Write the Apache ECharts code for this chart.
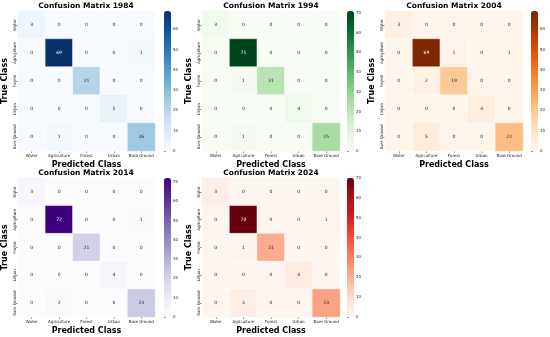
<!DOCTYPE html>
<html><head><meta charset="utf-8">
<script src="https://cdn.jsdelivr.net/npm/echarts@6/dist/echarts.min.js"></script>
<style>html,body{margin:0;padding:0;background:#fff}#c{width:550px;height:337px}</style>
</head><body><div id="c"></div>
<script>
const classes = ['Water','Agriculture','Forest','Urban','Bare Ground'];
const years = ['1984','1994','2004','2014','2024'];
const m1984 = [[3,0,0,0,0],[0,69,0,0,1],[0,0,21,0,0],[0,0,0,5,0],[0,1,0,0,26]];
const m1994 = [[3,0,0,0,0],[0,71,0,0,0],[0,1,21,0,0],[0,0,0,4,0],[0,1,0,0,25]];
const m2004 = [[3,0,0,0,0],[0,69,1,0,1],[0,2,19,0,0],[0,0,0,4,0],[0,5,0,0,22]];
const m2014 = [[3,0,0,0,0],[0,72,0,0,1],[0,0,21,0,0],[0,0,0,4,0],[0,2,0,0,23]];
const m2024 = [[3,0,0,0,0],[0,70,0,0,1],[0,1,21,0,0],[0,0,0,4,0],[0,3,0,0,23]];
const matrices = [m1984,m1994,m2004,m2014,m2024];
const colorbarTicks = [0,10,20,30,40,50,60,70];

const palettes = [
 ['#f7fbff','#deebf7','#c6dbef','#9ecae1','#6baed6','#4292c6','#2171b5','#08519c','#08306b'],
 ['#f7fcf5','#e5f5e0','#c7e9c0','#a1d99b','#74c476','#41ab5d','#238b45','#006d2c','#00441b'],
 ['#fff5eb','#fee6ce','#fdd0a2','#fdae6b','#fd8d3c','#f16913','#d94801','#a63603','#7f2704'],
 ['#fcfbfd','#efedf5','#dadaeb','#bcbddc','#9e9ac8','#807dba','#6a51a3','#54278f','#3f007d'],
 ['#fff5f0','#fee0d2','#fcbba1','#fc9272','#fb6a4a','#ef3b2c','#cb181d','#a50f15','#67000d']
];
// layout (px)
const panels = [
 {l:17, t:11, w:138, h:140, cb:164},
 {l:202,t:11, w:138, h:140, cb:347},
 {l:385,t:11, w:138, h:140, cb:531},
 {l:17, t:178,w:138, h:139, cb:164},
 {l:202,t:178,w:138, h:139, cb:347}
];
const FONT = 'DejaVu Sans';
const grid=[], xAxis=[], yAxis=[], series=[], visualMap=[], title=[];
panels.forEach((p,i)=>{
  const mat = matrices[i];
  let mx = 0; const data=[];
  mat.forEach((row,r)=>row.forEach((v,c)=>{ data.push([c,r,v]); if(v>mx) mx=v; }));
  grid.push({left:p.l, top:p.t, width:p.w, height:p.h, containLabel:false});
  xAxis.push({type:'category', gridIndex:2*i, data:classes, position:'bottom',
    name:'Predicted Class', nameLocation:'middle', nameGap:9.5,
    nameTextStyle:{fontFamily:FONT, fontWeight:'bold', fontSize:8, color:'#000'},
    axisLine:{show:false}, axisTick:{show:true, alignWithLabel:true, length:2, lineStyle:{color:'#333', width:0.5}},
    axisLabel:{fontFamily:FONT, fontSize:4, color:'#222', margin:3, interval:0}, splitLine:{show:false}});
  yAxis.push({type:'category', gridIndex:2*i, data:classes, inverse:true,
    name:'True Class', nameLocation:'middle', nameGap:9, nameRotate:90,
    nameTextStyle:{fontFamily:FONT, fontWeight:'bold', fontSize:8, color:'#000'},
    axisLine:{show:false}, axisTick:{show:true, alignWithLabel:true, length:2, lineStyle:{color:'#333', width:0.5}},
    axisLabel:{fontFamily:FONT, fontSize:4, color:'#222', margin:3, rotate:90, interval:0, verticalAlign:'middle', align:'center'}, splitLine:{show:false}});
  grid.push({left:p.cb, top:p.t, width:7, height:p.h});
  xAxis.push({type:'value', gridIndex:2*i+1, show:false, min:0, max:1});
  yAxis.push({type:'value', gridIndex:2*i+1, position:'right', min:0, max:mx, interval:10,
    axisLine:{show:false}, splitLine:{show:false},
    axisTick:{show:true, length:2, lineStyle:{color:'#333', width:0.5}},
    axisLabel:{fontFamily:FONT, fontSize:4, color:'#222', margin:2,
      showMaxLabel: colorbarTicks.indexOf(mx)>=0, formatter: v=> colorbarTicks.indexOf(v)>=0 ? String(v) : ''}});
  series.push({type:'heatmap', xAxisIndex:2*i, yAxisIndex:2*i,
    data: data.map(d=>({value:d, label:{color: d[2] > 0.6*mx ? '#fff' : '#262626'}})),
    itemStyle:{borderColor:'#fff', borderWidth:0.4},
    label:{show:true, fontFamily:FONT, fontSize:4.5, color:'#222', formatter: d=>String(d.value[2])},
    emphasis:{disabled:true}});
  visualMap.push({type:'continuous', seriesIndex:i, min:0, max:mx, calculable:false, show:true,
    left:p.cb, top:p.t, itemWidth:7, itemHeight:p.h, padding:0, text:null, showLabel:false,
    inRange:{color:palettes[i]}, hoverLink:false});
  title.push({text:'Confusion Matrix '+years[i], left:p.l+p.w/2, top:p.t-8.5, textAlign:'center', padding:0,
    textStyle:{fontFamily:FONT, fontWeight:'bold', fontSize:7.5, color:'#000'}});
});
const chart = echarts.init(document.getElementById('c'), null, {renderer:'canvas'});
chart.setOption({animation:false, backgroundColor:'#fff', title, grid, xAxis, yAxis, series, visualMap});
</script></body></html>
